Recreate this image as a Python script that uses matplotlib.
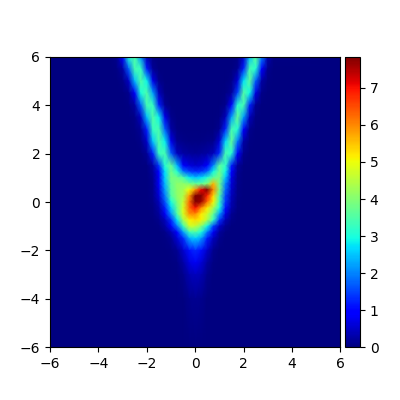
#!/usr/bin/env python3
import numpy as np
import matplotlib
matplotlib.use('Agg')
import matplotlib.pyplot as plt
from mpl_toolkits.axes_grid1 import make_axes_locatable

# density, rows top to bottom
x_vals = [-6, -3.5, -3.25, -3, -2.75, -2.5, -2.25, -2, -1.75, -1.5,
          -1.25, -1, -.75, -.5, -.25, 0, .25, .5, .75, 1,
          1.25, 1.5, 1.75, 2, 2.25, 2.5, 2.75, 3, 3.25, 6]
y_vals = [6, 5.5, 5, 4.5, 4, 3.5, 3, 2.5, 2, 1.5, 1.25, 1, .75, .5, .25, 0,
          -.25, -.5, -.75, -1, -1.25, -1.5, -2, -2.5, -3, -4, -6]
density = [
    [0,.03,.12,.9,3.05,  3.47,2.1,.37,.06,.02,  0,0,0,0,0,  0,0,0,0,0,  0,.01,.06,.48,2.4,  3.67,2.0,.33,.05,0],
    [0,.02,.05,.25,1.7,  3.4,3.25,1.2,.17,.03,  .01,0,0,0,0,  0,0,0,0,0,  0,.03,.15,1.25,3.4,  3.1,.9,.11,.02,0],
    [0,.01,.02,.07,.48,  2.4,3.5,2.85,.75,.1,  .02,0,0,0,0,  0,0,0,0,0,  .01,.08,.6,2.7,3.6,  1.7,.25,.04,.01,0],
    [0,0,.01,.03,.11,  .85,3.0,3.48,2.2,.4,  .06,.02,0,0,0,  0,0,0,0,.01,  .04,.2,1.5,3.55,2.9,  .7,.09,.02,0,0],
    [0,0,0,.01,.05,  .25,1.7,3.4,3.25,1.2,  .17,.03,.01,0,0,  0,0,0,.01,.02,  .11,.9,3.1,3.4,1.25,  .15,.03,.01,0,0],
    [0,0,0,.01,.02,  .07,.48,2.4,3.5,2.85,  .75,.1,.03,.01,.01,  0,.01,.01,.02,.06,  .4,2.2,3.7,2.2,.4,  .06,.01,0,0,0],
    [0,0,0,0,.01,  .04,.17,1.2,3.25,3.4,  1.7,.25,.05,.03,.02,  .02,.02,.02,.03,.15,  1.25,3.4,3.1,.9,.11,  .02,0,0,0,0],
    [0,0,0,0,0,  .02,.07,.5,2.5,3.5,  2.8,.75,.15,.08,.06,  .05,.06,.08,.12,.6,  2.6,3.65,1.9,.3,.05,  .01,0,0,0,0],
    [0,0,0,0,0,  0,.02,.17,1.2,3.25,  3.4,1.7,.45,.27,.2,  .18,.2,.25,.4,1.3,  3.4,3.1,.9,.11,.02,  0,0,0,0,0],
    [0,0,0,0,0,  0,.01,.03,.25,1.4,  3.1,3.7,2.4,1.0,.65,  .55,.6,.9,2.0,3.6,  3.2,1.2,.2,.03,0,  0,0,0,0,0],
    [0,0,0,0,0,  0,0,.03,.2,1.0,  2.7,3.8,3.1,1.9,1.5,  1.3,1.4,1.8,2.9,3.8,  2.9,.9,.15,.03,0,  0,0,0,0,0],
    [0,0,0,0,0,  0,0,.02,.15,.8,  2.6,3.9,3.8,3.5,2.8,  2.5,2.7,3.1,3.7,3.9,  2.5,.7,.12,.02,0,  0,0,0,0,0],
    [0,0,0,0,0,  0,0,.02,.12,.8,  2.4,3.7,4.1,4.1,3.9,  3.7,3.7,4.0,5.6,3.8,  2.0,.6,.1,.02,0,  0,0,0,0,0],
    [0,0,0,0,0,  0,0,.02,.1,.7,  2.2,3.6,4.1,4.3,5.0,  5.9,7.1,7.8,6.0,3.9,  1.8,.5,.08,.01,0,  0,0,0,0,0],
    [0,0,0,0,0,  0,0,.02,.1,.6,  1.9,3.5,4.1,4.4,5.8,  7.9,7.9,6.8,5.3,3.5,  1.5,.4,.07,.01,0,  0,0,0,0,0],
    [0,0,0,0,0,  0,0,.02,.08,.4,  1.6,3.0,3.9,4.6,6.2,  7.9,7.6,6.2,5.1,3.3,  1.4,.35,.06,.01,0,  0,0,0,0,0],
    [0,0,0,0,0,  0,0,.01,.06,.3,  1.2,2.6,3.7,4.8,6.2,  7.0,6.0,5.2,4.3,3.0,  1.1,.3,.05,0,0,  0,0,0,0,0],
    [0,0,0,0,0,  0,0,0,.04,.2,  .8,2.1,3.5,4.8,5.9,  6.0,5.2,4.7,3.7,2.2,  .7,.15,.03,0,0,  0,0,0,0,0],
    [0,0,0,0,0,  0,0,0,.02,.1,  .4,1.3,2.7,4.3,5.1,  5.3,5.1,4.4,3.2,1.4,  .35,.08,.01,0,0,  0,0,0,0,0],
    [0,0,0,0,0,  0,0,0,.01,.05,  .25,.9,1.9,3.3,4.7,  4.6,4.0,2.9,1.5,.5,  .15,.03,0,0,0,  0,0,0,0,0],
    [0,0,0,0,0,  0,0,0,0,.02,  .08,.35,1.0,2.2,3.3,  3.5,3.0,1.9,.8,.2,  .06,.01,0,0,0,  0,0,0,0,0],
    [0,0,0,0,0,  0,0,0,0,.01,  .04,.15,.6,1.3,2.3,  2.6,2.2,1.2,.45,.1,  .03,0,0,0,0,  0,0,0,0,0],
    [0,0,0,0,0,  0,0,0,0,0,  .01,.04,.15,.55,1.1,  1.3,1.1,.5,.12,.02,  0,0,0,0,0,  0,0,0,0,0],
    [0,0,0,0,0,  0,0,0,0,0,  0,.01,.06,.25,.65,  .8,.6,.22,.04,.01,  0,0,0,0,0,  0,0,0,0,0],
    [0,0,0,0,0,  0,0,0,0,0,  0,0,.02,.12,.35,  .45,.35,.1,.02,0,  0,0,0,0,0,  0,0,0,0,0],
    [0,0,0,0,0,  0,0,0,0,0,  0,0,0,.03,.1,  .15,.1,.02,0,0,  0,0,0,0,0,  0,0,0,0,0],
    [0,0,0,0,0,  0,0,0,0,0,  0,0,0,0,0,  0,0,0,0,0,  0,0,0,0,0,  0,0,0,0,0],
]
cbar_ticks = [0, 1, 2, 3, 4, 5, 6, 7]
VMAX = 7.84

fig, ax = plt.subplots(figsize=(4, 4), dpi=100)
mesh = ax.pcolormesh(x_vals, y_vals, np.array(density), cmap='jet',
                     vmin=0, vmax=VMAX, shading='gouraud')
ax.set_xlim(-6, 6)
ax.set_ylim(-6, 6)
ax.set_aspect('equal')
ax.set_xticks([-6, -4, -2, 0, 2, 4, 6])
ax.set_yticks([-6, -4, -2, 0, 2, 4, 6])

divider = make_axes_locatable(ax)
cax = divider.append_axes('right', size='5%', pad=0.05)
cbar = fig.colorbar(mesh, cax=cax)
cbar.set_ticks(cbar_ticks)

fig.savefig('out.png', dpi=100)
